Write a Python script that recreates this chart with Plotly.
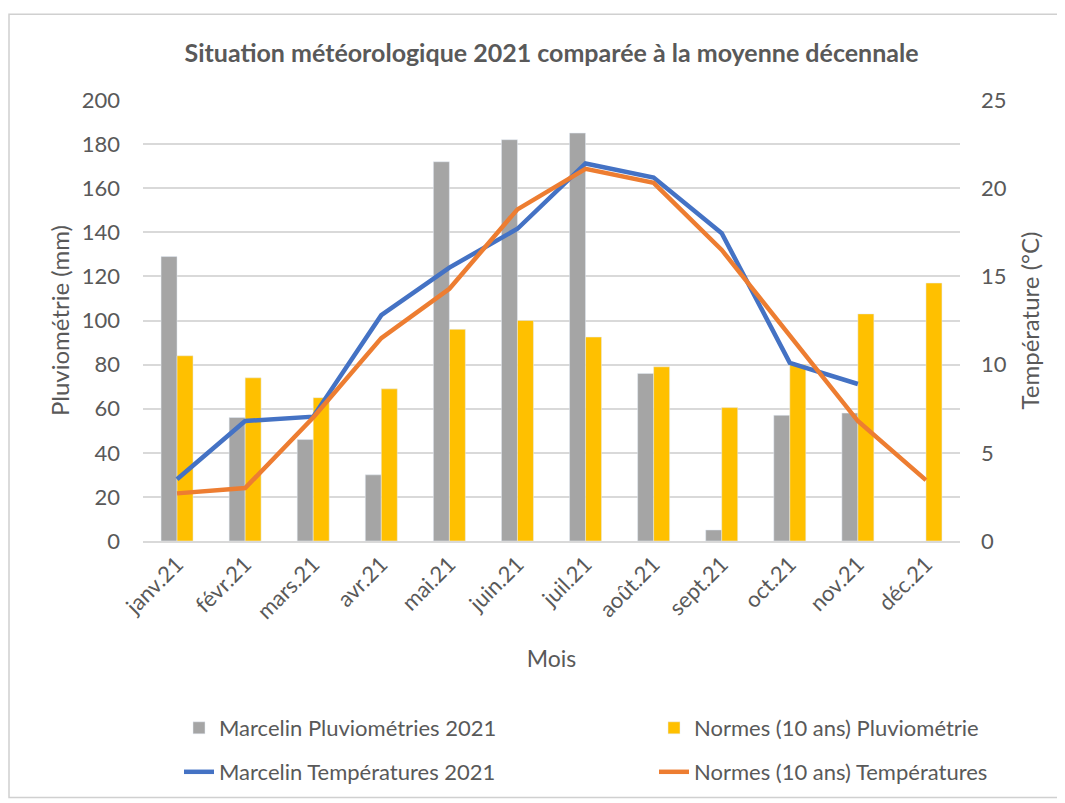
import plotly.graph_objects as go

months = ["janv.21", "févr.21", "mars.21", "avr.21", "mai.21", "juin.21",
          "juil.21", "août.21", "sept.21", "oct.21", "nov.21", "déc.21"]
pluvio_2021 = [129, 56, 46, 30, 172, 182, 185, 76, 5, 57, 58, None]
pluvio_norm = [84, 74, 65, 69, 96, 100, 92.5, 79, 60.5, 80, 103, 117]
temp_2021 = [3.5, 6.8, 7.05, 12.8, 15.5, 17.7, 21.4, 20.6, 17.45, 10.1, 8.9, None]
temp_norm = [2.7, 3.0, 7.0, 11.5, 14.3, 18.8, 21.1, 20.3, 16.5, 11.7, 6.8, 3.45]

FONT = "Lato"
TXT = "#595959"
GRID = "#d9d9d9"

# page offset (body margin) = 8 px; figure coordinates = page coordinates - 8
OFF = 8
W, H = 1065 - OFF, 803 - OFF
L, T = 143 - OFF, 100 - OFF
R = W - (960 - OFF)
B = H - (542 - OFF)
pw, ph = W - L - R, H - T - B


def px(x):
    return (x - OFF - L) / pw


def py(y):
    return (H - B - (y - OFF)) / ph


fig = go.Figure()
fig.add_trace(go.Bar(x=months, y=pluvio_2021, name="Marcelin Pluviométries 2021",
                     marker_color="#A5A5A5", legend="legend", showlegend=True))
fig.add_trace(go.Bar(x=months, y=pluvio_norm, name="Normes (10 ans) Pluviométrie",
                     marker_color="#FFC000", legend="legend2", showlegend=True))
fig.add_trace(go.Scatter(x=months, y=temp_2021, name="Marcelin Températures 2021",
                         mode="lines", line=dict(color="#4472C4", width=4.5),
                         yaxis="y2", legend="legend3", showlegend=True))
fig.add_trace(go.Scatter(x=months, y=temp_norm, name="Normes (10 ans) Températures",
                         mode="lines", line=dict(color="#ED7D31", width=4.5),
                         yaxis="y2", legend="legend4", showlegend=True))

legend_common = dict(orientation="h", xanchor="left", yanchor="middle",
                     font=dict(family=FONT, size=22, color=TXT),
                     bgcolor="rgba(0,0,0,0)")

fig.update_layout(
    width=W, height=H,
    showlegend=True,
    margin=dict(l=L, r=R, t=T, b=B),
    paper_bgcolor="white", plot_bgcolor="white",
    font=dict(family=FONT, color=TXT),
    barmode="group", bargap=0.53, bargroupgap=0,
    title=dict(text="<b>Situation météorologique 2021 comparée à la moyenne décennale</b>",
               x=0.5, xref="paper", xanchor="center",
               y=1 - (53 - OFF) / H, yanchor="middle", yref="container",
               font=dict(family=FONT, size=25, color=TXT)),
    xaxis=dict(
        title=dict(text="Mois", font=dict(family=FONT, size=23, color=TXT), standoff=28),
        tickangle=-45, tickfont=dict(family=FONT, size=22, color=TXT),
        showgrid=False, showline=True, linecolor=GRID, linewidth=1.5,
        ticks="", zeroline=False,
    ),
    yaxis=dict(
        title=dict(text="Pluviométrie (mm)", font=dict(family=FONT, size=24, color=TXT), standoff=5),
        range=[0, 200], dtick=20, tickfont=dict(family=FONT, size=22, color=TXT),
        showgrid=True, gridcolor=GRID, gridwidth=1.5, zeroline=False,
        ticks="", ticklen=0, ticklabelstandoff=22,
    ),
    yaxis2=dict(
        title=dict(text="Température (°C)", font=dict(family=FONT, size=24, color=TXT), standoff=16),
        range=[0, 25], dtick=5, overlaying="y", side="right",
        tickfont=dict(family=FONT, size=22, color=TXT),
        showgrid=False, zeroline=False, ticks="", ticklabelstandoff=20,
    ),
    legend=dict(x=px(179), y=py(728), **legend_common),
    legend2=dict(x=px(654), y=py(728), **legend_common),
    legend3=dict(x=px(179), y=py(772), **legend_common),
    legend4=dict(x=px(654), y=py(772), **legend_common),
    shapes=[dict(type="rect", xref="paper", yref="paper",
                 x0=px(9), x1=px(1059), y0=py(799), y1=py(14),
                 line=dict(color="#d0d0d0", width=1.5), fillcolor="rgba(0,0,0,0)",
                 layer="below")],
)

fig.write_html("out.html")
